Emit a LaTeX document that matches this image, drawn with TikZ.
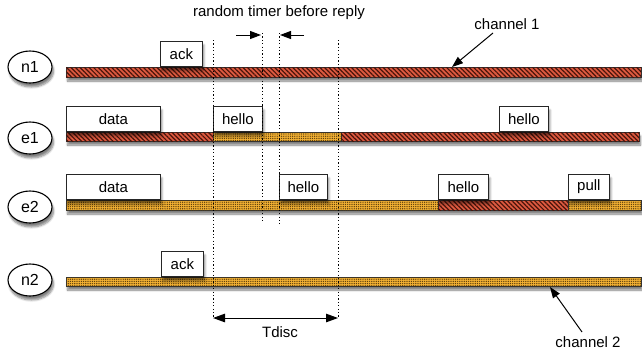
\documentclass[tikz,border=0pt]{standalone}
\usepackage{fontspec}
\setmainfont{Liberation Sans}
\usetikzlibrary{shapes.geometric,arrows.meta,patterns.meta,shadows.blur}
\definecolor{redfill}{HTML}{DE5A40}
\definecolor{redline}{HTML}{4A140A}
\definecolor{yelfill}{HTML}{F2B033}
\definecolor{yelline}{HTML}{5E400C}
\tikzset{
  txt/.style={font=\fontsize{15}{17}\selectfont},
  soft/.style={blur shadow={shadow xshift=1.5pt, shadow yshift=-4pt, shadow blur steps=6, shadow opacity=50}},
  nodeell/.style={ellipse, draw=black, line width=1.1pt, fill=white, minimum width=44pt, minimum height=32pt, inner sep=0pt, font=\fontsize{16}{18}\selectfont, soft},
  msg/.style={rectangle, draw=black!85, line width=0.8pt, fill=white, inner sep=0pt, minimum height=25.5pt, anchor=south west, txt, soft},
  redbar/.style={fill=redfill, draw=black!80, line width=0.8pt, postaction={pattern={Lines[angle=-45,distance=3.2pt,line width=1.2pt]}, pattern color=redline}},
  yelbar/.style={fill=yelfill, draw=black!80, line width=0.8pt, postaction={pattern={Dots[distance=2.2pt,radius=0.7pt]}, pattern color=yelline}},
  rowshadow/.style={fill=white, soft},
  dotline/.style={black, line width=0.8pt, dash pattern=on 1.2pt off 2.2pt},
  arr/.style={-{Triangle[length=11pt,width=8pt]}, line width=1pt, black},
  dblarr/.style={{Triangle[length=12pt,width=8.5pt]}-{Triangle[length=12pt,width=8.5pt]}, line width=1pt, black},
}
\begin{document}
\begin{tikzpicture}[x=1pt,y=-1pt]
\useasboundingbox (0,0) rectangle (642,354);

% node ellipses
\node[nodeell] (n1) at (30,67) {n1};
\node[nodeell] (e1) at (30,138) {e1};
\node[nodeell] (e2) at (30,207) {e2};
\node[nodeell] (n2) at (30,280) {n2};

% channel bars (row shadows first)
\path[rowshadow] (66,67) rectangle (641,77);
\path[rowshadow] (66,132) rectangle (639,141);
\path[rowshadow] (66,200) rectangle (641,210);
\path[rowshadow] (66,277) rectangle (641,286);

% n1
\path[redbar] (66,67) rectangle (641,77);
% e1
\path[redbar] (66,132) rectangle (213,141);
\path[yelbar] (213,132) rectangle (341,141);
\path[redbar] (341,132) rectangle (639,141);
% e2
\path[yelbar] (66,200) rectangle (438,210);
\path[redbar] (438,200) rectangle (568,210);
\path[yelbar] (568,200) rectangle (641,210);
% n2
\path[yelbar] (66,277) rectangle (641,286);

% message boxes
\node[msg, minimum width=42pt] (ackA) at (160,67) {ack};
\node[msg, minimum width=94pt] (dataA) at (66,132) {data};
\node[msg, minimum width=49pt] (helloA) at (213,132) {hello};
\node[msg, minimum width=49pt] (helloB) at (499,132) {hello};
\node[msg, minimum width=94pt] (dataB) at (66,200) {data};
\node[msg, minimum width=48pt] (helloC) at (279,200) {hello};
\node[msg, minimum width=50pt] (helloD) at (438,200) {hello};
\node[msg, minimum width=41pt] (pullA) at (568,200) {pull};
\node[msg, minimum width=42pt] (ackB) at (161,277) {ack};

% dotted time markers
\coordinate (d1t) at (213,40);  \coordinate (d1b) at (213,318);
\coordinate (d2t) at (262,33);  \coordinate (d2b) at (262,221);
\coordinate (d3t) at (279,33);  \coordinate (d3b) at (279,224);
\coordinate (d4t) at (338,40);  \coordinate (d4b) at (338,318);
\draw[dotline] (d1t) -- (d1b);
\draw[dotline] (d2t) -- (d2b);
\draw[dotline] (d3t) -- (d3b);
\draw[dotline] (d4t) -- (d4b);

% random timer
\node[txt] (timer) at (279,13) {random timer before reply};
\coordinate (ta) at (236,35); \coordinate (tae) at (261,35);
\coordinate (tb) at (304,35); \coordinate (tbe) at (280,35);
\draw[arr] (ta) -- (tae);
\draw[arr] (tb) -- (tbe);

% Tdisc
\draw[dblarr] (d1b) -- (d4b);
\node[txt] (tdisc) at (280,332) {Tdisc};

% channel labels
\node[txt] (ch1) at (507,24) {channel 1};
\coordinate (ch1s) at (493,33); \coordinate (ch1t) at (452,67);
\draw[arr] (ch1s) -- (ch1t);
\node[txt] (ch2) at (588,342) {channel 2};
\coordinate (ch2s) at (582,332); \coordinate (ch2t) at (550,287);
\draw[arr] (ch2s) -- (ch2t);
\end{tikzpicture}
\end{document}
